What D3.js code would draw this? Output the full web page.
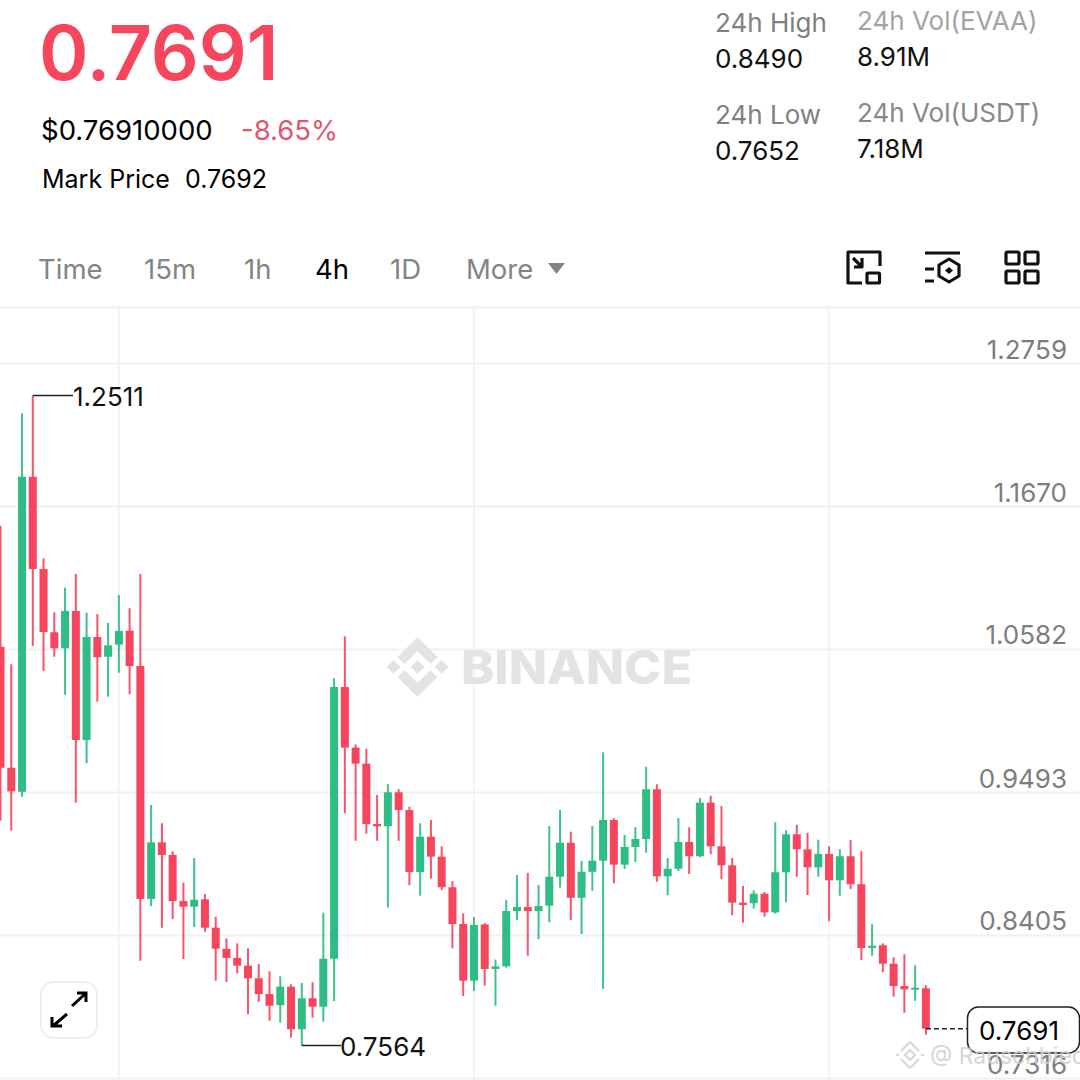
<!DOCTYPE html>
<html>
<head>
<meta charset="utf-8">
<script src="https://cdn.jsdelivr.net/npm/d3@7/dist/d3.min.js"></script>
<style>
  html, body { margin: 0; padding: 0; background: #fff; }
  svg { display: block; }
  text { font-family: Inter, "Noto Sans", sans-serif; }
</style>
</head>
<body>
<script>
/* candles */
const opens = [
  1.0599, 0.9678, 0.9495, 1.1893, 1.1191, 1.0709, 1.0587, 1.0871, 0.9889, 1.0673,
  1.0523, 1.0615, 1.0721, 1.0452, 0.8679, 0.9110, 0.9014, 0.8663, 0.8620, 0.8676,
  0.8460, 0.8300, 0.8230, 0.8171, 0.8075, 0.7955, 0.7871, 0.8011, 0.7687, 0.7923,
  0.7859, 0.8224, 1.0293, 0.9831, 0.9709, 0.9250, 0.9232, 0.9491, 0.9356, 0.8884,
  0.9153, 0.9001, 0.8768, 0.8488, 0.8057, 0.8485, 0.8146, 0.8166, 0.8587, 0.8618,
  0.8587, 0.8628, 0.8848, 0.9107, 0.8688, 0.8886, 0.8970, 0.9280, 0.8940, 0.9075,
  0.9135, 0.9514, 0.8851, 0.8909, 0.9113, 0.9004, 0.9412, 0.9080, 0.8935, 0.8651,
  0.8646, 0.8719, 0.8577, 0.8882, 0.9171, 0.9057, 0.8920, 0.9021, 0.8821, 0.9004,
  0.8791, 0.8306, 0.8326, 0.8186, 0.8016, 0.7988, 0.7999
];
const highs = [
  1.1520, 1.0465, 1.2376, 1.2511, 1.1272, 1.0861, 1.1049, 1.1153, 1.0858, 1.0848,
  1.0780, 1.0993, 1.0892, 1.1153, 0.9394, 0.9255, 0.9042, 0.8803, 0.8991, 0.8717,
  0.8544, 0.8379, 0.8341, 0.8303, 0.8184, 0.8128, 0.8090, 0.8029, 0.8039, 0.8045,
  0.8574, 1.0359, 1.0678, 0.9856, 0.9823, 0.9470, 0.9554, 0.9516, 0.9381, 0.9255,
  0.9280, 0.9080, 0.8816, 0.8570, 0.8542, 0.8494, 0.8217, 0.8671, 0.8861, 0.8877,
  0.8785, 0.9234, 0.9356, 0.9191, 0.8968, 0.9234, 0.9795, 0.9293, 0.9166, 0.9225,
  0.9686, 0.9552, 0.8991, 0.9295, 0.9225, 0.9447, 0.9465, 0.9387, 0.8991, 0.8778,
  0.8745, 0.8732, 0.9263, 0.9202, 0.9244, 0.9183, 0.9130, 0.9080, 0.9057, 0.9128,
  0.9044, 0.8486, 0.8341, 0.8235, 0.8258, 0.8174, 0.8022
];
const lows = [
  0.9275, 0.9199, 0.9457, 1.0605, 1.0414, 1.0523, 1.0234, 0.9412, 0.9712, 1.0181,
  1.0219, 1.0401, 1.0237, 0.8209, 0.8625, 0.8460, 0.8526, 0.8222, 0.8465, 0.8430,
  0.8057, 0.8047, 0.8113, 0.7801, 0.7895, 0.7752, 0.7737, 0.7623, 0.7564, 0.7775,
  0.7745, 0.7902, 0.9331, 0.9122, 0.9176, 0.9122, 0.8615, 0.9122, 0.8783, 0.8704,
  0.8833, 0.8747, 0.8303, 0.7940, 0.7978, 0.8019, 0.7866, 0.8156, 0.8517, 0.8247,
  0.8372, 0.8501, 0.8765, 0.8519, 0.8412, 0.8740, 0.7994, 0.8798, 0.8907, 0.8960,
  0.9031, 0.8810, 0.8707, 0.8892, 0.8869, 0.8998, 0.9019, 0.8829, 0.8555, 0.8498,
  0.8605, 0.8544, 0.8567, 0.8654, 0.8848, 0.8709, 0.8848, 0.8509, 0.8704, 0.8755,
  0.8214, 0.8247, 0.8121, 0.7935, 0.7813, 0.7904, 0.7646
];
const closes = [
  0.9678, 0.9498, 1.1893, 1.1191, 1.0711, 1.0587, 1.0871, 0.9889, 1.0673, 1.0519,
  1.0610, 1.0719, 1.0452, 0.8679, 0.9110, 0.9014, 0.8663, 0.8620, 0.8673, 0.8460,
  0.8300, 0.8230, 0.8171, 0.8075, 0.7955, 0.7866, 0.8011, 0.7687, 0.7923, 0.7859,
  0.8224, 1.0293, 0.9831, 0.9709, 0.9250, 0.9232, 0.9491, 0.9356, 0.8884, 0.9153,
  0.9001, 0.8768, 0.8488, 0.8057, 0.8481, 0.8146, 0.8166, 0.8587, 0.8618, 0.8587,
  0.8625, 0.8848, 0.9107, 0.8688, 0.8886, 0.8970, 0.9280, 0.8940, 0.9075, 0.9135,
  0.9514, 0.8851, 0.8909, 0.9113, 0.9004, 0.9412, 0.9080, 0.8935, 0.8651, 0.8633,
  0.8719, 0.8577, 0.8882, 0.9171, 0.9057, 0.8920, 0.9021, 0.8821, 0.9004, 0.8791,
  0.8306, 0.8323, 0.8186, 0.8016, 0.7991, 0.8003, 0.7691
];
const priceTicks = [1.2759, 1.1670, 1.0582, 0.9493, 0.8405, 0.7316];
const timeTicks = [11, 44, 77]; // candles with a vertical grid line
const maxLabel = { i: 3, price: 1.2511 };
const minLabel = { i: 28, price: 0.7564 };
const lastPrice = 0.7691;

const RED = "#f6465d";
const GREEN = "#2ebd85";
const GRID = "#f1f1f1";

const svg = d3.select("body").append("svg").attr("width", 1080).attr("height", 1080);

const x = d3.scaleLinear().domain([0, 86]).range([0.5, 925.9]);
const y = d3.scaleLinear().domain([1.2759, 0.7316]).range([363, 1078]);

function label(t, px, py, size, fill, weight) {
  return svg.append("text").attr("x", px).attr("y", py)
    .attr("font-size", size).attr("fill", fill).attr("font-weight", weight || 400)
    .text(t);
}

/* header */
label("0.7691", 39, 80, 75, RED, 600);
label("$0.76910000", 41, 140, 27.5, "#000");
label("-8.65%", 241, 140, 27.5, "#e0566d");
label("Mark Price", 42, 188, 25, "#000");
label("0.7692", 185, 188, 25, "#000");

label("24h High", 715, 32, 26, "#808080");
label("0.8490", 715, 68, 26, "#111");
label("24h Low", 715, 124, 26, "#808080");
label("0.7652", 715, 160, 26, "#111");
label("24h Vol(EVAA)", 857, 30, 26, "#a3a3a3");
label("8.91M", 857, 66, 26, "#111");
label("24h Vol(USDT)", 857, 122, 26, "#888");
label("7.18M", 857, 158, 26, "#111");

/* tabs */
const tabs = [["Time", 38], ["15m", 144], ["1h", 244], ["4h", 315], ["1D", 390], ["More", 466]];
tabs.forEach(t => label(t[0], t[1], 279, 27.5, t[0] === "4h" ? "#000" : "#848484"));
svg.append("path").attr("d", "M548,263H565L556.5,274Z").attr("fill", "#848484");

/* toolbar icons */
const icons = svg.append("g").attr("fill", "none").attr("stroke", "#111")
  .attr("stroke-width", 3.2).attr("stroke-linejoin", "round");
icons.append("path").attr("d", "M862,283H848V252H880V266");
icons.append("path").attr("d", "M853,258L861,266M862,258V267H854");
icons.append("rect").attr("x", 867).attr("y", 273).attr("width", 12.5).attr("height", 10).attr("rx", 1);
icons.append("path").attr("d", "M925,253H960M925,269H934M925,281H934");
icons.append("path").attr("d", "M949,259L959,265V276L949,282L939,276V265Z");
icons.append("path").attr("d", "M949,267L953,270.5L949,274L945,270.5Z").attr("fill", "#111").attr("stroke", "none");
[[1006, 252], [1025, 252], [1006, 271], [1025, 271]].forEach(p => {
  icons.append("rect").attr("x", p[0]).attr("y", p[1]).attr("width", 13).attr("height", 12).attr("rx", 1.5);
});

svg.append("rect").attr("x", 0).attr("y", 306).attr("width", 1080).attr("height", 3).attr("fill", "#f4f4f4");

/* grid and axis */
svg.append("g").selectAll("line").data(timeTicks).join("line")
  .attr("x1", d => x(d)).attr("x2", d => x(d)).attr("y1", 309).attr("y2", 1080)
  .attr("stroke", GRID).attr("stroke-width", 1.5);

const yAxis = svg.append("g").attr("class", "y-axis")
  .call(d3.axisRight(y).tickValues(priceTicks).tickFormat(d3.format(".4f")).tickSize(1080));
yAxis.select(".domain").remove();
yAxis.selectAll(".tick line").attr("stroke", GRID).attr("stroke-width", 2);
yAxis.selectAll(".tick text")
  .attr("x", 1067).attr("dy", 0).attr("y", -5)
  .attr("text-anchor", "end").attr("font-size", 26).attr("fill", "#7d7d7d")
  .attr("font-family", "Inter, sans-serif");

/* binance watermark */
const mark = svg.append("g").attr("fill", "#e3e3e3").attr("transform", "translate(417.5,667)");
mark.append("path").attr("d", "M0,-30L20,-10L13,-3L0,-16L-13,-3L-20,-10Z");
mark.append("path").attr("d", "M0,30L20,10L13,3L0,16L-13,3L-20,10Z");
[[0, 0], [-24, 0], [24, 0]].forEach(p => {
  mark.append("path").attr("d", `M${p[0]},${p[1] - 7}L${p[0] + 7},${p[1]}L${p[0]},${p[1] + 7}L${p[0] - 7},${p[1]}Z`);
});
label("BINANCE", 461, 684, 47, "#e3e3e3", 800).attr("textLength", 231).attr("lengthAdjust", "spacingAndGlyphs");

/* candles */
const candles = d3.range(opens.length).map(i => ({
  i, open: opens[i], high: highs[i], low: lows[i], close: closes[i]
}));
const colour = d => (d.close >= d.open ? GREEN : RED);

const g = svg.append("g").attr("class", "candles");
g.selectAll("line").data(candles).join("line")
  .attr("x1", d => x(d.i)).attr("x2", d => x(d.i))
  .attr("y1", d => y(d.high)).attr("y2", d => y(d.low))
  .attr("stroke", colour).attr("stroke-width", 2).attr("opacity", 0.92);
g.selectAll("rect").data(candles).join("rect")
  .attr("x", d => x(d.i) - 4).attr("width", 8)
  .attr("y", d => y(Math.max(d.open, d.close)))
  .attr("height", d => Math.max(2, Math.abs(y(d.open) - y(d.close))))
  .attr("fill", colour);

/* max and min markers */
svg.append("line").attr("x1", x(maxLabel.i)).attr("x2", 73)
  .attr("y1", y(maxLabel.price)).attr("y2", y(maxLabel.price)).attr("stroke", "#222").attr("stroke-width", 1.5);
label(maxLabel.price.toFixed(4), 73, y(maxLabel.price) + 10, 26, "#111");
svg.append("line").attr("x1", x(minLabel.i)).attr("x2", 341)
  .attr("y1", y(minLabel.price)).attr("y2", y(minLabel.price)).attr("stroke", "#222").attr("stroke-width", 1.5);
label(minLabel.price.toFixed(4), 340, y(minLabel.price) + 11, 26, "#111");

/* last price */
svg.append("line").attr("x1", x(86)).attr("x2", 968)
  .attr("y1", y(lastPrice)).attr("y2", y(lastPrice))
  .attr("stroke", "#222").attr("stroke-width", 1.5).attr("stroke-dasharray", "5 3");

svg.append("rect").attr("x", 967.5).attr("y", 1007).attr("width", 112).attr("height", 46).attr("rx", 11)
  .attr("fill", "#fff").attr("stroke", "#222").attr("stroke-width", 1.5);
label(lastPrice.toFixed(4), 979, 1040, 26, "#000");

/* lower watermark, on top of the price box */
const small = svg.append("g").attr("fill", "none").attr("stroke", "#d8d8d8").attr("stroke-width", 2.2)
  .attr("transform", "translate(910,1055)");
small.append("path").attr("d", "M0,-13L9,-4M0,-13L-9,-4M0,13L9,4M0,13L-9,4");
small.append("path").attr("d", "M0,-5L5,0L0,5L-5,0Z");
small.append("path").attr("d", "M-14,0H-11M11,0H14");
label("@ Rauschbied", 930, 1064, 23, "#cfcfcf").attr("opacity", 0.85);

/* expand button */
svg.append("rect").attr("x", 41).attr("y", 982).attr("width", 56).attr("height", 56).attr("rx", 13)
  .attr("fill", "#fff").attr("stroke", "#eee").attr("stroke-width", 2);
svg.append("path").attr("d", "M72,1006L85,994M77,993H86V1002M67,1014L53,1026M52,1017V1026H62")
  .attr("fill", "none").attr("stroke", "#000").attr("stroke-width", 3);
</script>
</body>
</html>
